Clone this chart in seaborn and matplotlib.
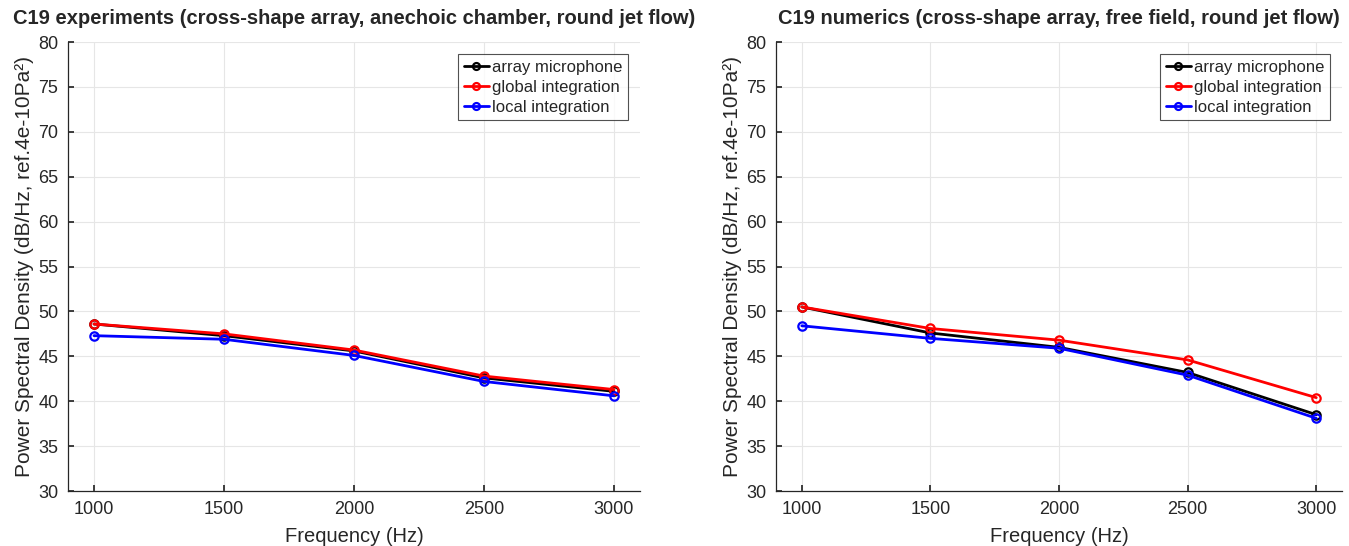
import numpy as np
import pandas as pd
import seaborn as sns
import matplotlib.pyplot as plt

# values
freq = [1000, 1500, 2000, 2500, 3000]
series_names = ['array microphone', 'global integration', 'local integration']

exp_array = [48.6, 47.3, 45.6, 42.6, 41.1]
exp_global = [48.6, 47.5, 45.7, 42.8, 41.3]
exp_local = [47.3, 46.9, 45.1, 42.2, 40.6]

num_array = [50.5, 47.6, 46.0, 43.2, 38.5]
num_global = [50.5, 48.1, 46.8, 44.6, 40.4]
num_local = [48.4, 47.0, 45.9, 42.9, 38.1]

titles = ['C19 experiments (cross-shape array, anechoic chamber, round jet flow)',
          'C19 numerics (cross-shape array, free field, round jet flow)']
yticks = [30, 35, 40, 45, 50, 55, 60, 65, 70, 75, 80]
xticks = [1000, 1500, 2000, 2500, 3000]

sns.set_theme(style='whitegrid')
plt.rcParams['font.family'] = ['Liberation Sans', 'DejaVu Sans']


def long_frame(a, g, l):
    rows = []
    for name, vals in zip(series_names, [a, g, l]):
        for f, v in zip(freq, vals):
            rows.append({'Frequency': f, 'PSD': v, 'series': name})
    return pd.DataFrame(rows)


panels = [long_frame(exp_array, exp_global, exp_local),
          long_frame(num_array, num_global, num_local)]
palette = {'array microphone': 'black', 'global integration': '#ff0000',
           'local integration': '#0000ff'}

fig = plt.figure(figsize=(13.49, 5.46), dpi=100)
ax1 = fig.add_axes([0.0504, 0.1007, 0.424, 0.8223])
ax2 = fig.add_axes([0.5753, 0.1007, 0.4195, 0.8223])

for ax, df, title in zip([ax1, ax2], panels, titles):
    sns.lineplot(data=df, x='Frequency', y='PSD', hue='series', palette=palette,
                 marker='o', markersize=6, linewidth=2, ax=ax)
    # open circle markers, edge in line colour
    for ln in ax.get_lines():
        ln.set_markerfacecolor('none')
        ln.set_markeredgecolor(ln.get_color())
        ln.set_markeredgewidth(1.6)
    ax.set_xlim(900, 3100)
    ax.set_ylim(30, 80)
    ax.set_xticks(xticks)
    ax.set_yticks(yticks)
    ax.set_title(title, fontsize=14.5, fontweight='bold', pad=13)
    ax.set_xlabel('Frequency (Hz)', fontsize=14.5, color='#262626', labelpad=7)
    ax.set_ylabel('Power Spectral Density (dB/Hz, ref.4e-10Pa²)', fontsize=15,
                  color='#262626', labelpad=3)
    ax.tick_params(axis='both', labelsize=13, labelcolor='#262626', direction='in',
                   length=4, color='#262626', left=True, bottom=True, pad=7)
    ax.grid(True, color='#e6e6e6', linewidth=0.8)
    for s in ['top', 'right']:
        ax.spines[s].set_visible(False)
    for s in ['left', 'bottom']:
        ax.spines[s].set_color('#262626')
        ax.spines[s].set_linewidth(0.9)
    leg = ax.legend(loc='upper right', fontsize=12, frameon=True, fancybox=False,
                    handlelength=1.5, handletextpad=0.2, borderpad=0.35,
                    labelspacing=0.3, borderaxespad=0.7)
    for h in leg.get_lines():
        h.set_markerfacecolor('none')
        h.set_markeredgecolor(h.get_color())
        h.set_marker('o')
        h.set_markersize(5)
        h.set_linewidth(2)
    leg.get_frame().set_edgecolor('#262626')
    leg.get_frame().set_linewidth(0.8)

fig.savefig('out.png', dpi=100)
